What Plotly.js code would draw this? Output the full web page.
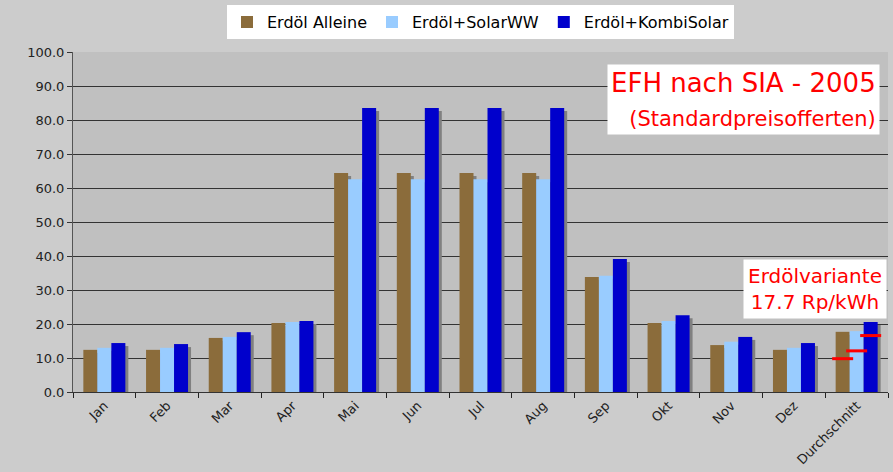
<!DOCTYPE html>
<html>
<head>
<meta charset="utf-8">
<script src="https://cdn.plot.ly/plotly-3.0.1.min.js"></script>
<style>
  html, body { margin: 0; padding: 0; background: #cccccc; }
  #graph { width: 893px; height: 472px; }
</style>
</head>
<body>
<div id="graph"></div>
<script>
const months = ['Jan', 'Feb', 'Mar', 'Apr', 'Mai', 'Jun', 'Jul', 'Aug', 'Sep', 'Okt', 'Nov', 'Dez', 'Durchschnitt'];
const erdoelAlleine = [12.4, 12.4, 15.9, 20.3, 64.4, 64.4, 64.4, 64.4, 33.8, 20.3, 13.8, 12.4, 17.7];
const erdoelSolarWW = [13.0, 13.0, 16.2, 20.6, 62.6, 62.6, 62.6, 62.6, 34.2, 20.9, 14.8, 13.0, 17.9];
const erdoelKombi = [14.4, 14.1, 17.6, 20.9, 83.5, 83.5, 83.5, 83.5, 39.1, 22.6, 16.2, 14.4, 20.6];
// red marks on the Durchschnitt bars
const redMarks = [9.8, 12.1, 16.6];

const seriesNames = ['Erdöl Alleine', 'Erdöl+SolarWW', 'Erdöl+KombiSolar'];
const seriesColors = ['#8b6c3b', '#99ccff', '#0000cc'];
const seriesData = [erdoelAlleine, erdoelSolarWW, erdoelKombi];

const font = 'DejaVu Sans, Verdana, sans-serif';
const bargap = 0.33;
const plotW = 893 - 73 - 5;
const plotH = 472 - 52 - 80;
const nCat = months.length;
// shadow offset in pixels -> data units
const shiftX = 3 * nCat / plotW;
const shiftY = 3 * 100 / plotH;

const traces = [];

// shadows, drawn first on the base subplot
seriesData.forEach((vals, i) => {
	traces.push({
		type: 'bar',
		x: months,
		y: vals,
		xaxis: 'x',
		yaxis: 'y',
		marker: {color: '#808080'},
		showlegend: false,
		hoverinfo: 'skip'
	});
});

seriesData.forEach((vals, i) => {
	traces.push({
		type: 'bar',
		name: seriesNames[i],
		x: months,
		y: vals,
		xaxis: 'x2',
		yaxis: 'y2',
		marker: {color: seriesColors[i]}
	});
});

const barW = (1 - bargap) / 3;
const lastIdx = nCat - 1;
traces.push({
	type: 'scatter',
	mode: 'markers',
	x: redMarks.map((_, i) => lastIdx + (i - 1) * barW),
	y: redMarks,
	xaxis: 'x3',
	yaxis: 'y2',
	marker: {symbol: 'line-ew', size: 15, line: {color: '#ff0000', width: 3}},
	showlegend: false,
	hoverinfo: 'skip'
});

const layout = {
	width: 893,
	height: 472,
	paper_bgcolor: '#cccccc',
	plot_bgcolor: '#c0c0c0',
	margin: {l: 73, r: 5, t: 52, b: 80},
	barmode: 'group',
	bargap: bargap,
	bargroupgap: 0,
	font: {family: font, size: 13, color: '#222'},
	xaxis: {
		type: 'category',
		range: [-0.5 - shiftX, nCat - 0.5 - shiftX],
		visible: false,
		fixedrange: true
	},
	yaxis: {
		range: [shiftY, 100 + shiftY],
		visible: false,
		fixedrange: true
	},
	xaxis2: {
		type: 'category',
		overlaying: 'x',
		range: [-0.5, nCat - 0.5],
		tickson: 'boundaries',
		ticks: 'outside',
		ticklen: 5,
		tickcolor: '#222',
		tickangle: -45,
		tickfont: {family: font, size: 13, color: '#222'},
		showline: true,
		linecolor: '#333',
		linewidth: 1,
		showgrid: false
	},
	yaxis2: {
		overlaying: 'y',
		range: [0, 100],
		dtick: 10,
		tickformat: '.1f',
		ticks: 'outside',
		ticklen: 5,
		tickcolor: '#333',
		tickfont: {family: font, size: 13, color: '#222'},
		showline: true,
		linecolor: '#555',
		linewidth: 1,
		showgrid: true,
		gridcolor: '#333',
		gridwidth: 1,
		zeroline: false
	},
	xaxis3: {
		overlaying: 'x',
		range: [-0.5, nCat - 0.5],
		visible: false
	},
	legend: {
		orientation: 'h',
		x: 0.5,
		xanchor: 'center',
		y: 1.138,
		yanchor: 'top',
		bgcolor: '#ffffff',
		font: {family: font, size: 16, color: '#000'},
		itemwidth: 30,
		traceorder: 'normal'
	},
	annotations: [
		{
			xref: 'paper', yref: 'paper',
			x: 0.99, y: 0.965,
			xanchor: 'right', yanchor: 'top',
			align: 'right',
			text: 'EFH nach SIA - 2005<br><span style="font-size:21px">(Standardpreisofferten)</span>',
			font: {family: font, size: 26, color: '#ff0000'},
			bgcolor: '#ffffff',
			borderpad: 3,
			showarrow: false
		},
		{
			xref: 'paper', yref: 'paper',
			x: 0.9988, y: 0.391,
			xanchor: 'right', yanchor: 'top',
			align: 'center',
			text: 'Erdölvariante<br>17.7 Rp/kWh',
			font: {family: font, size: 20, color: '#ff0000'},
			bgcolor: '#ffffff',
			borderpad: 4,
			showarrow: false
		}
	]
};

Plotly.newPlot('graph', traces, layout, {displayModeBar: false, staticPlot: true});
</script>
</body>
</html>
